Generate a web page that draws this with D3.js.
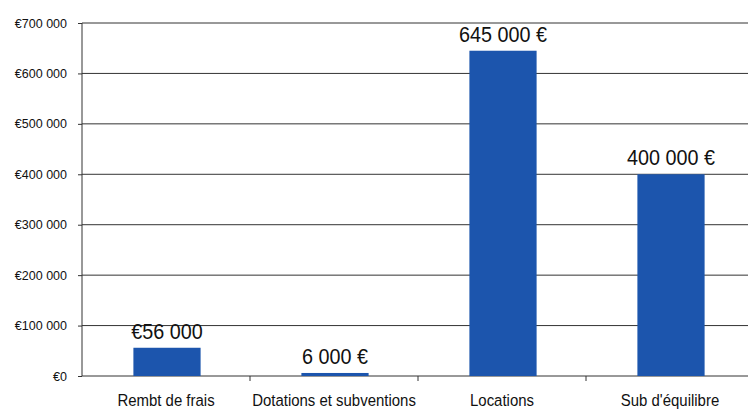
<!DOCTYPE html>
<html>
<head>
<meta charset="utf-8">
<script src="https://cdn.jsdelivr.net/npm/d3@7"></script>
<style>
  body { margin: 0; background: #fff; }
  .tick text { font-family: "Liberation Sans", Arial, sans-serif; }
</style>
</head>
<body>
<div class="chart"></div>
<script>
// Data
const categories = ["Rembt de frais", "Dotations et subventions", "Locations", "Sub d'équilibre"];
const values = [56000, 6000, 645000, 400000];
const valueLabels = ["€56 000", "6 000 €", "645 000 €", "400 000 €"];
const yTicks = [0, 100000, 200000, 300000, 400000, 500000, 600000, 700000];

// Sizes
let width = 748;
let height = 412;
let margin = { top: 23, right: -6, bottom: 36, left: 82 };

// narrow look: squeeze the text horizontally (no narrow font installed)
const squeeze = 0.88;

let svg = d3.select(".chart").append("svg")
    .attr("width", width)
    .attr("height", height);

const xScale = d3.scaleBand()
    .domain(categories)
    .range([margin.left, width - margin.right])
    .paddingInner(0.6)
    .paddingOuter(0.3);

// band used only for the category ticks (no padding)
const xTickScale = d3.scaleBand()
    .domain(categories)
    .range([margin.left, width - margin.right]);

const yScale = d3.scaleLinear()
    .domain([0, 700000])
    .range([height - margin.bottom, margin.top]);

// Gridlines
svg.append("g")
    .selectAll("line")
    .data(yTicks)
    .enter().append("line")
    .attr("x1", margin.left)
    .attr("x2", width)
    .attr("y1", d => yScale(d))
    .attr("y2", d => yScale(d))
    .attr("stroke", "#333")
    .attr("stroke-width", 1);

// Y axis
const yAxis = svg.append("g")
    .attr("transform", `translate(${margin.left},0)`)
    .call(d3.axisLeft(yScale)
        .tickValues(yTicks)
        .tickSize(4)
        .tickPadding(11)
        .tickFormat(d => "€" + d3.format(",")(d).replace(/,/g, " ")));
yAxis.select(".domain").attr("stroke", "#333").attr("d", `M0,${yScale(700000)}V${yScale(0)}`);
yAxis.selectAll(".tick line").attr("stroke", "#333");
yAxis.selectAll(".tick text")
    .style("font-size", "12.5px")
    .attr("fill", "#111");

// Category tick marks between bands
svg.append("g")
    .selectAll("line")
    .data(categories.slice(1))
    .enter().append("line")
    .attr("x1", d => xTickScale(d))
    .attr("x2", d => xTickScale(d))
    .attr("y1", yScale(0))
    .attr("y2", yScale(0) + 5)
    .attr("stroke", "#333");

// Bars
svg.append("g")
    .selectAll("rect")
    .data(values)
    .enter().append("rect")
    .attr("x", (d, i) => xScale(categories[i]) + 1)
    .attr("width", xScale.bandwidth())
    .attr("y", d => yScale(d))
    .attr("height", d => yScale(0) - yScale(d))
    .attr("fill", "#1c55ad");

// Value labels
svg.append("g")
    .selectAll("text")
    .data(values)
    .enter().append("text")
    .attr("transform", (d, i) => `translate(${xScale(categories[i]) + xScale.bandwidth() / 2 + 1},${yScale(d) - 9}) scale(0.9,1)`)
    .attr("text-anchor", "middle")
    .style("font-family", "'Liberation Sans', Arial, sans-serif")
    .style("font-size", "22px")
    .attr("fill", "#111")
    .text((d, i) => valueLabels[i]);

// Category labels
svg.append("g")
    .selectAll("text")
    .data(categories)
    .enter().append("text")
    .attr("transform", d => `translate(${xTickScale(d) + xTickScale.bandwidth() / 2},${yScale(0) + 30}) scale(${squeeze},1)`)
    .attr("text-anchor", "middle")
    .style("font-family", "'Liberation Sans', Arial, sans-serif")
    .style("font-size", "17px")
    .attr("fill", "#111")
    .text(d => d);
</script>
</body>
</html>
